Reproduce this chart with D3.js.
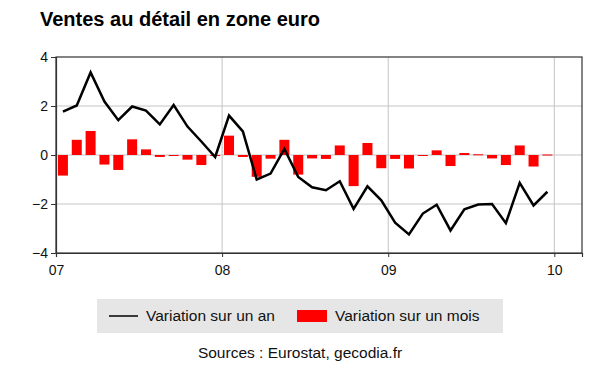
<!DOCTYPE html>
<html>
<head>
<meta charset="utf-8">
<script src="https://cdn.jsdelivr.net/npm/d3@7"></script>
<style>
  body { margin: 0; background: #fff; }
  text { font-family: "Liberation Sans", Arial, sans-serif; }
</style>
</head>
<body>
<div id="chart"></div>
<script>
// monthly data, Jan 2007 -> Dec 2009
var annual = [1.77, 2.02, 3.37, 2.18, 1.42, 1.98, 1.81, 1.25, 2.04, 1.16, 0.55, -0.08,
              1.61, 0.96, -1.0, -0.76, 0.25, -0.9, -1.32, -1.44, -1.07, -2.2, -1.28, -1.85,
              -2.76, -3.24, -2.39, -2.03, -3.08, -2.22, -2.02, -2.0, -2.78, -1.14, -2.06, -1.5];
var monthly = [-0.84, 0.62, 0.98, -0.39, -0.61, 0.64, 0.23, -0.08, -0.03, -0.19, -0.41, -0.02,
               0.79, -0.08, -0.89, -0.15, 0.62, -0.8, -0.14, -0.16, 0.39, -1.27, 0.49, -0.54,
               -0.16, -0.55, -0.03, 0.19, -0.45, 0.08, 0.03, -0.14, -0.41, 0.39, -0.47, 0.02];
var yearTicks = [0, 12, 24, 36];
var yearLabels = ["07", "08", "09", "10"];
var yTicks = [-4, -2, 0, 2, 4];
var seriesNames = ["Variation sur un an", "Variation sur un mois"];

var W = 600, H = 372;
var margin = {top: 57, right: 18, bottom: 119, left: 56};
var width = W - margin.left - margin.right,
    height = H - margin.top - margin.bottom;

var svg = d3.select("#chart").append("svg")
    .attr("width", W).attr("height", H);

svg.append("text")
    .attr("x", 40).attr("y", 26)
    .style("font-size", "20px").style("font-weight", "bold")
    .text("Ventes au détail en zone euro");

var g = svg.append("g")
    .attr("transform", "translate(" + margin.left + "," + margin.top + ")");

var x = d3.scaleLinear().domain([0, 38]).range([0, width]);
var y = d3.scaleLinear().domain([-4, 4]).range([height, 0]);

// grid
g.selectAll(".hgrid").data([-2, 0, 2]).enter().append("line")
    .attr("x1", 0).attr("x2", width)
    .attr("y1", function(d) { return y(d); }).attr("y2", function(d) { return y(d); })
    .attr("stroke", "#c4c4c4").attr("stroke-width", 1);
g.selectAll(".vgrid").data(yearTicks.slice(1)).enter().append("line")
    .attr("y1", 0).attr("y2", height)
    .attr("x1", function(d) { return x(d); }).attr("x2", function(d) { return x(d); })
    .attr("stroke", "#c4c4c4").attr("stroke-width", 1);

// bars
var barW = 10;
g.selectAll(".bar").data(monthly).enter().append("rect")
    .attr("x", function(d, i) { return x(i + 0.5) - barW / 2; })
    .attr("y", function(d) { return y(Math.max(0, d)); })
    .attr("width", barW)
    .attr("height", function(d) { return Math.max(1, Math.abs(y(d) - y(0))); })
    .attr("fill", "#ff0000");

// line
var line = d3.line()
    .x(function(d, i) { return x(i + 0.5); })
    .y(function(d) { return y(d); });
g.append("path").datum(annual)
    .attr("d", line)
    .attr("fill", "none")
    .attr("stroke", "#000")
    .attr("stroke-width", 2.5)
    .attr("stroke-linejoin", "miter");

// frame
g.append("rect").attr("width", width).attr("height", height)
    .attr("fill", "none").attr("stroke", "#333").attr("stroke-width", 1.2);

var yAxis = d3.axisLeft(y).tickValues(yTicks).tickSize(5).tickPadding(3)
    .tickFormat(d3.format("d"));
var xAxis = d3.axisBottom(x).tickValues(yearTicks).tickSize(4).tickPadding(8)
    .tickFormat(function(d, i) { return yearLabels[i]; });

var ya = g.append("g").call(yAxis);
var xa = g.append("g").attr("transform", "translate(0," + height + ")").call(xAxis);
[ya, xa].forEach(function(a) {
  a.select(".domain").attr("stroke", "#333").attr("stroke-width", 1.2);
  a.selectAll(".tick line").attr("stroke", "#333");
  a.selectAll("text").style("font-size", "14px").attr("fill", "#111")
    .style("font-family", "'Liberation Sans', Arial, sans-serif");
});

// legend
var lg = svg.append("g");
lg.append("rect").attr("x", 97).attr("y", 299).attr("width", 406).attr("height", 34)
    .attr("fill", "#e6e6e6");
lg.append("line").attr("x1", 109).attr("x2", 138).attr("y1", 316).attr("y2", 316)
    .attr("stroke", "#000").attr("stroke-width", 1.5);
lg.append("text").attr("x", 146).attr("y", 321).style("font-size", "15.5px")
    .attr("fill", "#111").text(seriesNames[0]);
lg.append("rect").attr("x", 297).attr("y", 310).attr("width", 30).attr("height", 12)
    .attr("fill", "#ff0000");
lg.append("text").attr("x", 335).attr("y", 321).style("font-size", "15.5px")
    .attr("fill", "#111").text(seriesNames[1]);

svg.append("text").attr("x", 300).attr("y", 358).attr("text-anchor", "middle")
    .style("font-size", "15.5px").attr("fill", "#111")
    .text("Sources : Eurostat, gecodia.fr");
</script>
</body>
</html>
